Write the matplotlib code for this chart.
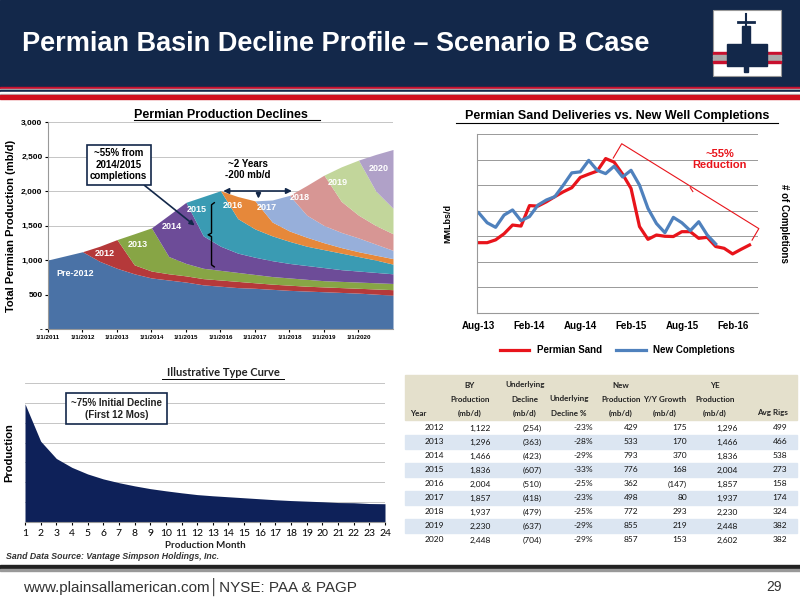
import matplotlib
matplotlib.use("Agg")
import matplotlib.pyplot as plt
import numpy as np
from matplotlib.patches import Rectangle

W, H = 800, 600
plt.rcParams['font.family'] = ['Liberation Sans', 'DejaVu Sans']

# ---------------- data: production declines (cumulative tops, semi-annual) -------------
t = [2011, 2011.5, 2012, 2012.5, 2013, 2013.5, 2014, 2014.5, 2015, 2015.5, 2016, 2016.5,
     2017, 2017.5, 2018, 2018.5, 2019, 2019.5, 2020, 2020.5, 2021]
vintages = ['Pre-2012', '2012', '2013', '2014', '2015', '2016', '2017', '2018', '2019', '2020']
top_pre = [1000, 1060, 1120, 980, 880, 800, 740, 710, 680, 640, 620, 600, 590, 575, 560, 550, 540, 530, 520, 505, 490]
top_2012 = [1000, 1060, 1120, 1200, 1296, 930, 840, 800, 770, 730, 710, 690, 670, 650, 635, 620, 610, 600, 590, 580, 570]
top_2013 = [1000, 1060, 1120, 1200, 1296, 1380, 1466, 1050, 950, 880, 850, 820, 790, 760, 740, 720, 700, 690, 680, 670, 660]
top_2014 = [1000, 1060, 1120, 1200, 1296, 1380, 1466, 1650, 1836, 1350, 1200, 1100, 1040, 990, 950, 920, 890, 860, 840, 820, 800]
top_2015 = [1000, 1060, 1120, 1200, 1296, 1380, 1466, 1650, 1836, 1920, 2004, 1600, 1450, 1350, 1270, 1200, 1150, 1100, 1050, 1000, 940]
top_2016 = [1000, 1060, 1120, 1200, 1296, 1380, 1466, 1650, 1836, 1920, 2004, 1920, 1857, 1550, 1420, 1330, 1250, 1180, 1120, 1070, 1020]
top_2017 = [1000, 1060, 1120, 1200, 1296, 1380, 1466, 1650, 1836, 1920, 2004, 1920, 1857, 1870, 1937, 1650, 1500, 1400, 1320, 1230, 1140]
top_2018 = [1000, 1060, 1120, 1200, 1296, 1380, 1466, 1650, 1836, 1920, 2004, 1920, 1857, 1870, 1937, 2080, 2230, 1850, 1650, 1500, 1380]
top_2019 = [1000, 1060, 1120, 1200, 1296, 1380, 1466, 1650, 1836, 1920, 2004, 1920, 1857, 1870, 1937, 2080, 2230, 2350, 2448, 2000, 1750]
top_2020 = [1000, 1060, 1120, 1200, 1296, 1380, 1466, 1650, 1836, 1920, 2004, 1920, 1857, 1870, 1937, 2080, 2230, 2350, 2448, 2530, 2602]
tops = [top_pre, top_2012, top_2013, top_2014, top_2015, top_2016, top_2017, top_2018, top_2019, top_2020]
vint_colors = ['#4A72A6', '#B5393A', '#87A545', '#6D4C98', '#3A9BB3', '#E6883A',
               '#97AFDA', '#D79694', '#C2D69B', '#B0A1C8']
prod_ticks = ['1/1/2011', '1/1/2012', '1/1/2013', '1/1/2014', '1/1/2015', '1/1/2016',
              '1/1/2017', '1/1/2018', '1/1/2019', '1/1/2020']

# ---------------- data: sand vs completions (monthly from Aug-13) -------------
sand = [2.75, 2.75, 2.86, 3.1, 3.44, 3.4, 4.2, 4.18, 4.35, 4.55, 4.74, 4.9, 5.3, 5.43, 5.55,
        6.04, 5.9, 5.43, 4.87, 3.38, 2.88, 3.05, 3.0, 2.99, 3.18, 3.18, 2.92, 2.96, 2.6, 2.53,
        2.31, 2.49, 2.66]
completions = [3.92, 3.53, 3.35, 3.83, 4.03, 3.61, 3.77, 4.22, 4.42, 4.55, 5.0, 5.48, 5.52,
               5.97, 5.58, 5.45, 5.74, 5.32, 5.58, 5.0, 4.09, 3.5, 3.14, 3.74, 3.53, 3.22,
               3.57, 3.05, 2.7]
month_labels = ['Aug-13', 'Feb-14', 'Aug-14', 'Feb-15', 'Aug-15', 'Feb-16']

# ---------------- data: type curve -------------
months = list(range(1, 25))
type_curve = [5.95, 4.07, 3.2, 2.75, 2.42, 2.17, 1.98, 1.82, 1.68, 1.57, 1.47, 1.38, 1.32,
              1.27, 1.22, 1.17, 1.12, 1.08, 1.05, 1.02, 0.98, 0.97, 0.93, 0.92]

# ---------------- data: table -------------
tbl_header = [['', 'BY', 'Underlying', '', 'New', '', 'YE', ''],
              ['', 'Production', 'Decline', 'Underlying', 'Production', 'Y/Y Growth', 'Production', ''],
              ['Year', '(mb/d)', '(mb/d)', 'Decline %', '(mb/d)', '(mb/d)', '(mb/d)', 'Avg Rigs']]
tbl_rows = [
    ['2012', '1,122', '(254)', '-23%', '429', '175', '1,296', '499'],
    ['2013', '1,296', '(363)', '-28%', '533', '170', '1,466', '466'],
    ['2014', '1,466', '(423)', '-29%', '793', '370', '1,836', '538'],
    ['2015', '1,836', '(607)', '-33%', '776', '168', '2,004', '273'],
    ['2016', '2,004', '(510)', '-25%', '362', '(147)', '1,857', '158'],
    ['2017', '1,857', '(418)', '-23%', '498', '80', '1,937', '174'],
    ['2018', '1,937', '(479)', '-25%', '772', '293', '2,230', '324'],
    ['2019', '2,230', '(637)', '-29%', '855', '219', '2,448', '382'],
    ['2020', '2,448', '(704)', '-29%', '857', '153', '2,602', '382'],
]

NAVY = '#13284A'
fig = plt.figure(figsize=(8, 6), dpi=100)


def rect(l, t_, r, b):
    return [l / W, 1 - b / H, (r - l) / W, (b - t_) / H]


def fx(x):
    return x / W


def fy(y):
    return 1 - y / H


# background header
bg = fig.add_axes([0, 0, 1, 1], zorder=-10)
bg.set_xlim(0, W); bg.set_ylim(H, 0); bg.axis('off')
bg.add_patch(Rectangle((0, 0), W, 87, color=NAVY))
for y0, h, c in [(87, 1.5, '#C8102E'), (88.5, 1.5, '#BBBBBB'), (90, 2, NAVY), (92, 1.5, '#FFFFFF'),
                 (93.5, 1.5, '#BBBBBB'), (95, 4, '#D0101E')]:
    bg.add_patch(Rectangle((0, y0), W, h, color=c))
bg.add_patch(Rectangle((713, 10), 68, 66, facecolor='white', edgecolor='#999999', lw=0.8))
for yy, c in [(52, '#C8102E'), (55, '#AAAAAA'), (58, '#AAAAAA'), (61, '#C8102E')]:
    bg.add_patch(Rectangle((713, yy), 68, 1.5, color=c))
bg.add_patch(Rectangle((727, 44), 40, 22, color=NAVY))
bg.add_patch(Rectangle((742, 26), 8, 20, color=NAVY))
bg.add_patch(Rectangle((744, 66), 4, 6, color=NAVY))
bg.plot([738, 754], [22, 22], color=NAVY, lw=2)
bg.plot([746, 746], [14, 26], color=NAVY, lw=1.5)
# footer
bg.add_patch(Rectangle((0, 565), W, 4, color='#222222'))
bg.add_patch(Rectangle((0, 569), W, 2, color='#999999'))
fig.text(fx(22), fy(44), 'Permian Basin Decline Profile – Scenario B Case', color='white',
         fontsize=19.5, fontweight='bold', va='center', ha='left')
fig.text(fx(23), fy(587), 'www.plainsallamerican.com│NYSE: PAA & PAGP', color='#333333',
         fontsize=11, va='center', ha='left')
fig.text(fx(782), fy(587), '29', color='#333333', fontsize=10, va='center', ha='right')

# ---------------- chart 1: production declines -------------
ax1 = fig.add_axes(rect(48, 122, 393, 329))
prev = [0] * len(t)
for name, top, col in zip(vintages, tops, vint_colors):
    ax1.fill_between(t, prev, top, color=col, lw=0)
    prev = top
ax1.set_xlim(2011, 2021)
ax1.set_ylim(0, 3000)
ax1.set_yticks(range(0, 3001, 500))
ax1.set_yticklabels(['-', '500', '1,000', '1,500', '2,000', '2,500', '3,000'], fontsize=6,
                    fontweight='bold')
ax1.set_xticks(range(2011, 2021))
ax1.set_xticklabels(prod_ticks, fontsize=4.5, fontweight='bold')
ax1.grid(axis='y', color='#BBBBBB', lw=0.6)
ax1.set_axisbelow(True)
for s in ['top', 'right']:
    ax1.spines[s].set_visible(False)
ax1.spines['left'].set_color('#999999'); ax1.spines['bottom'].set_color('#999999')
ax1.tick_params(length=2, pad=2)
ax1.set_ylabel('Total Permian Production (mb/d)', fontsize=8, fontweight='bold', labelpad=4)
ax1.set_title('Permian Production Declines', fontsize=9, fontweight='bold', pad=3)
lab_pos = [(2011.8, 800, 'Pre-2012'), (2012.65, 1090, '2012'), (2013.6, 1230, '2013'),
           (2014.6, 1480, '2014'), (2015.3, 1730, '2015'), (2016.35, 1790, '2016'),
           (2017.35, 1760, '2017'), (2018.3, 1900, '2018'), (2019.4, 2130, '2019'),
           (2020.6, 2330, '2020')]
for x, y, s in lab_pos:
    ax1.text(x, y, s, color='white', fontsize=6.5, fontweight='bold', ha='center', va='center')
ax1.annotate('~55% from\n2014/2015\ncompletions', xy=(2015.25, 1500), xytext=(2013.05, 2380),
             fontsize=7, fontweight='bold', ha='center', va='center',
             bbox=dict(boxstyle='square,pad=0.35', fc='white', ec=NAVY, lw=1.2),
             arrowprops=dict(arrowstyle='-|>', color=NAVY, lw=1.2, shrinkA=0, shrinkB=0))
ax1.plot([2015.82, 2015.74, 2015.74, 2015.64, 2015.74, 2015.74, 2015.82],
         [900, 930, 1340, 1365, 1390, 1800, 1830], color='black', lw=1)
ax1.annotate('', xy=(2016, 2000), xytext=(2018.15, 2000),
             arrowprops=dict(arrowstyle='<|-|>', color=NAVY, lw=1.2, mutation_scale=8))
ax1.annotate('', xy=(2017.1, 1850), xytext=(2017.1, 2000),
             arrowprops=dict(arrowstyle='-|>', color=NAVY, lw=1.2, mutation_scale=7))
ax1.text(2016.8, 2310, '~2 Years\n-200 mb/d', fontsize=7, fontweight='bold', ha='center',
         va='center', color='black')

# ---------------- chart 2: sand vs completions -------------
ax2 = fig.add_axes(rect(477, 134, 758, 313))
ax2.plot(range(len(sand)), sand, color='#E8141B', lw=2.3, label='Permian Sand')
ax2.plot(range(len(completions)), completions, color='#4F81BD', lw=2.3, label='New Completions')
ax2.set_xlim(-0.2, 33)
ax2.set_ylim(0, 7)
ax2.set_yticks(range(0, 8))
ax2.set_yticklabels([])
ax2.tick_params(axis='y', length=0)
ax2.set_xticks([0, 6, 12, 18, 24, 30])
ax2.set_xticklabels(month_labels, fontsize=7, fontweight='bold')
ax2.tick_params(axis='x', length=0, pad=6)
ax2.grid(axis='y', color='#999999', lw=0.7)
ax2.set_axisbelow(True)
for s in ['top', 'right']:
    ax2.spines[s].set_visible(False)
ax2.spines['left'].set_color('#999999'); ax2.spines['bottom'].set_color('#999999')
ax2.set_ylabel('MMLbs/d', fontsize=6.5, fontweight='bold', labelpad=14)
ax2r = ax2.twinx()
ax2r.set_yticks([])
for s in ['top', 'right', 'left', 'bottom']:
    ax2r.spines[s].set_visible(False)
ax2r.set_ylabel('# of Completions', fontsize=7, fontweight='bold', rotation=270, labelpad=22)
fig.text(fx(617), fy(116), 'Permian Sand Deliveries vs. New Well Completions', fontsize=9,
         fontweight='bold', ha='center', va='center')
ax2.legend(loc='upper center', bbox_to_anchor=(0.5, -0.13), ncol=2, frameon=False,
           fontsize=7, handlelength=3, columnspacing=1.5,
           prop={'weight': 'bold', 'size': 7})
ax2.plot([15.9, 16.9, 33.1, 32.3], [6.06, 6.62, 3.3, 2.85], color='#E8141B', lw=0.8,
         clip_on=False)
ax2.plot([25.0, 25.3], [4.9, 4.75], color='#E8141B', lw=0.8)
ax2.text(28.5, 6.0, '~55%\nReduction', color='#E8141B', fontsize=8, fontweight='bold',
         ha='center', va='center')

# ---------------- chart 3: type curve -------------
ax3 = fig.add_axes(rect(25, 383, 385, 522))
ax3.fill_between(months, 0, type_curve, color='#0E2159', lw=0)
ax3.set_xlim(1, 24)
ax3.set_ylim(0, 7)
ax3.set_yticks(range(1, 8))
ax3.set_yticklabels([])
ax3.tick_params(axis='y', length=0)
ax3.set_xticks(months)
ax3.set_xticklabels([str(m) for m in months], fontsize=7.5, family='Lato')
ax3.tick_params(axis='x', length=2, pad=3)
ax3.grid(axis='y', color='#BBBBBB', lw=0.6)
ax3.set_axisbelow(True)
for s in ['top', 'right', 'left']:
    ax3.spines[s].set_visible(False)
ax3.spines['bottom'].set_color('#999999')
ax3.set_ylabel('Production', fontsize=8, fontweight='bold', labelpad=4)
fig.text(fx(205), fy(545), 'Production Month', fontsize=7, fontweight='bold',
         family='Lato', ha='center', va='center', color='#222222')
fig.text(fx(223), fy(373), 'Illustrative Type Curve', fontsize=8, fontweight='bold',
         family='Lato', ha='center', va='center', color='#222222')
ax3.text(6.85, 5.7, '~75% Initial Decline\n(First 12 Mos)', fontsize=7, fontweight='bold',
         ha='center', va='center', color='#222222',
         bbox=dict(boxstyle='square,pad=0.5', fc='white', ec=NAVY, lw=1.2))
fig.text(fx(6), fy(556.5), 'Sand Data Source: Vantage Simpson Holdings, Inc.', fontsize=6.3,
         fontstyle='italic', fontweight='bold', color='#333333', va='center')

# underline titles
bg.plot([134, 320], [120, 120], color='black', lw=0.8)
bg.plot([456, 778], [123, 123], color='black', lw=0.8)
bg.plot([162, 284], [379, 379], color='black', lw=0.7)

# ---------------- table -------------
bg.add_patch(Rectangle((405, 375), 392, 45, color='#E4E0CC'))
for i in range(len(tbl_rows)):
    if i % 2 == 1:
        bg.add_patch(Rectangle((405, 421 + i * 14), 392, 14, color='#DCE6F2'))
col_x = [444, 491, 542, 593, 638, 687, 738, 787]
hdr_x = [418, 470, 525, 569, 621, 665, 715, 772]
for r, hdr in enumerate(tbl_header):
    for c, s in enumerate(hdr):
        if s:
            fig.text(fx(hdr_x[c]), fy(385 + r * 14), s, fontsize=5.8, fontweight='bold',
                     family='Lato', ha='center', va='center', color='#222222')
for r, row in enumerate(tbl_rows):
    for c, s in enumerate(row):
        fig.text(fx(col_x[c]), fy(428 + r * 14), s, fontsize=6, family='Lato',
                 ha='right', va='center', color='#111111')

fig.savefig('out.png', dpi=100)
